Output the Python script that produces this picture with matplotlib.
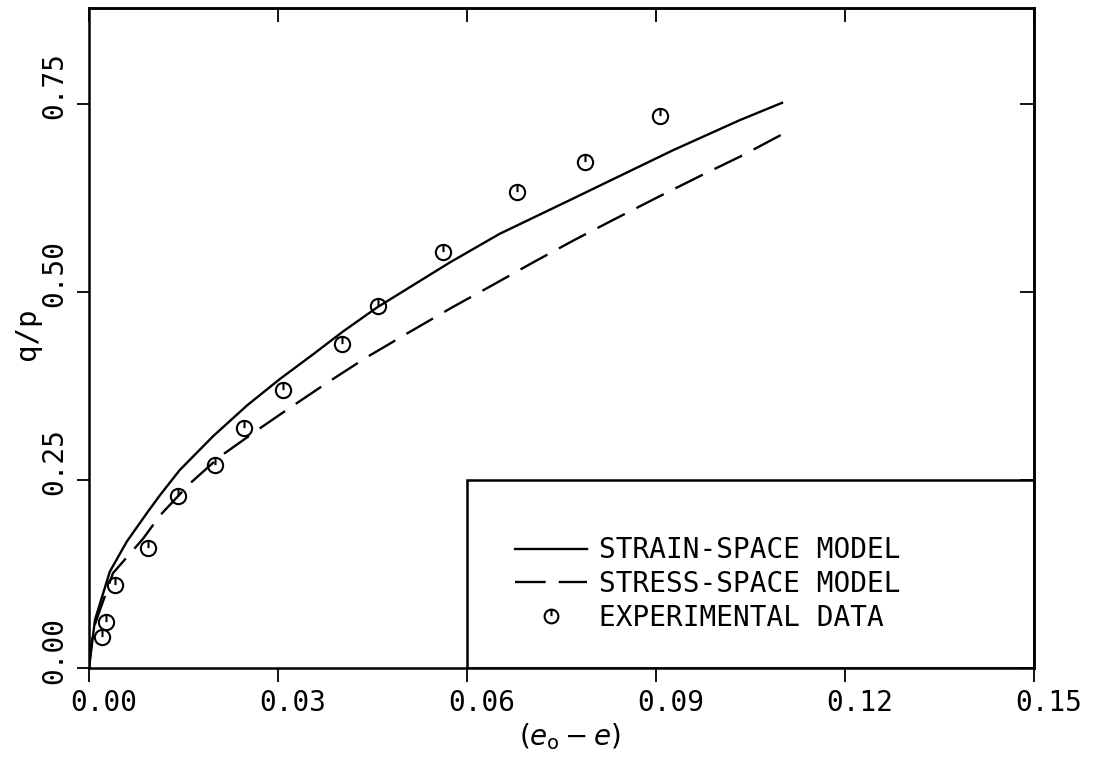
import matplotlib
matplotlib.use("Agg")
import matplotlib.pyplot as plt
from matplotlib.path import Path
from matplotlib.transforms import ScaledTranslation
from matplotlib.patches import Rectangle

# ---- data ----
strain_x = [0.0, 0.00095, 0.0033, 0.0060, 0.0092, 0.0113, 0.0144, 0.0197, 0.0251,
            0.0303, 0.0356, 0.0403, 0.0457, 0.0573, 0.0652, 0.0759, 0.0838, 0.0927,
            0.1033, 0.1100]
strain_y = [0.0, 0.064, 0.128, 0.168, 0.206, 0.230, 0.263, 0.308, 0.349,
            0.384, 0.417, 0.447, 0.479, 0.539, 0.577, 0.620, 0.652, 0.688,
            0.728, 0.751]

stress_x = [0.0, 0.0006, 0.0038, 0.0086, 0.0113, 0.0160, 0.0208, 0.0267, 0.0314,
            0.0378, 0.0441, 0.0510, 0.0576, 0.0641, 0.0705, 0.0771, 0.0838, 0.0906,
            0.0973, 0.1037, 0.1100]
stress_y = [0.0, 0.050, 0.126, 0.172, 0.203, 0.245, 0.281, 0.316, 0.343,
            0.379, 0.413, 0.447, 0.479, 0.509, 0.539, 0.569, 0.598, 0.627,
            0.655, 0.681, 0.709]

exp_x = [0.0021, 0.0027, 0.0041, 0.0094, 0.0141, 0.0200, 0.0246, 0.0308,
         0.0402, 0.0459, 0.0562, 0.0679, 0.0787, 0.0906]
exp_y = [0.041, 0.061, 0.110, 0.160, 0.229, 0.270, 0.319, 0.370,
         0.431, 0.481, 0.553, 0.632, 0.673, 0.733]

x_ticks = [0.0, 0.03, 0.06, 0.09, 0.12, 0.15]
x_ticklabels = ["0.00", "0.03", "0.06", "0.09", "0.12", "0.15"]
y_ticks = [0.0, 0.25, 0.50, 0.75]
y_ticklabels = ["0.00", "0.25", "0.50", "0.75"]

legend_labels = ["STRAIN-SPACE MODEL", "STRESS-SPACE MODEL", "EXPERIMENTAL DATA"]
x_label = r"$(e_{\mathrm{o}} - e)$"
y_label = "q/p"

# ---- style ----
plt.rcParams["font.family"] = ["DejaVu Sans Mono", "DejaVu Sans"]
plt.rcParams["mathtext.fontset"] = "dejavusans"
FS = 20

fig = plt.figure(figsize=(10.97, 7.57), dpi=100)
W, H = 1097, 757
L, R, T, B = 89, 1034, 8, 668
ax = fig.add_axes([L / W, 1 - B / H, (R - L) / W, (B - T) / H])

# custom marker: circle with a short vertical stroke from the top to the centre
circ = Path.unit_circle()
verts = list(circ.vertices) + [(0, 1), (0, 0.05)]
codes = list(circ.codes) + [Path.MOVETO, Path.LINETO]
exp_marker = Path(verts, codes)

ax.plot(strain_x, strain_y, color="black", lw=1.7, label=legend_labels[0])
ax.plot(stress_x, stress_y, color="black", lw=1.7, ls=(0, (13, 5.5)),
        label=legend_labels[1])
ax.plot(exp_x, exp_y, ls="none", marker=exp_marker, ms=11, mfc="none",
        mec="black", mew=1.5, label=legend_labels[2])

ax.set_xlim(0, 0.15)
ax.set_ylim(0, 0.877)
for s in ax.spines.values():
    s.set_linewidth(1.8)

ax.set_xticks(x_ticks)
ax.set_xticklabels(x_ticklabels, fontsize=FS)
ax.set_yticks(y_ticks)
ax.set_yticklabels(y_ticklabels, fontsize=FS, rotation=90, va="center")
ax.tick_params(axis="x", direction="out", length=10, width=1.3, pad=5)
ax.tick_params(axis="y", direction="out", length=9, width=1.3, pad=6)

for lab in ax.get_xticklabels():
    lab.set_transform(lab.get_transform() + ScaledTranslation(0.15, 0, fig.dpi_scale_trans))
for lab in ax.get_yticklabels():
    lab.set_transform(lab.get_transform() + ScaledTranslation(0, 0.18, fig.dpi_scale_trans))

# inward ticks on top and right
sx = ax.secondary_xaxis("top")
sx.set_xticks(x_ticks)
sx.tick_params(direction="in", length=10, width=1.3, labeltop=False)
sx.spines["top"].set_linewidth(1.8)
sy = ax.secondary_yaxis("right")
sy.set_yticks(y_ticks)
sy.tick_params(direction="in", length=10, width=1.3, labelright=False)
sy.spines["right"].set_linewidth(1.8)

# legend frame box (lower-right)
ax.add_patch(Rectangle((0.4, 0.0), 0.6, 0.25 / 0.877, transform=ax.transAxes,
                       fill=False, lw=1.8, ec="black", zorder=3))
leg = ax.legend(loc="center", bbox_to_anchor=(708 / W, 1 - 584 / H),
                bbox_transform=fig.transFigure, frameon=False, fontsize=FS,
                handlelength=2.6, handletextpad=0.43, labelspacing=0.2,
                borderpad=0.0, markerscale=0.9)

fig.text(570 / W, 1 - 737 / H, x_label, fontsize=FS, ha="center", va="center")
fig.text(27 / W, 1 - 334 / H, y_label, fontsize=FS + 1, rotation=90,
         ha="center", va="center")

fig.savefig("out.png", dpi=100)
